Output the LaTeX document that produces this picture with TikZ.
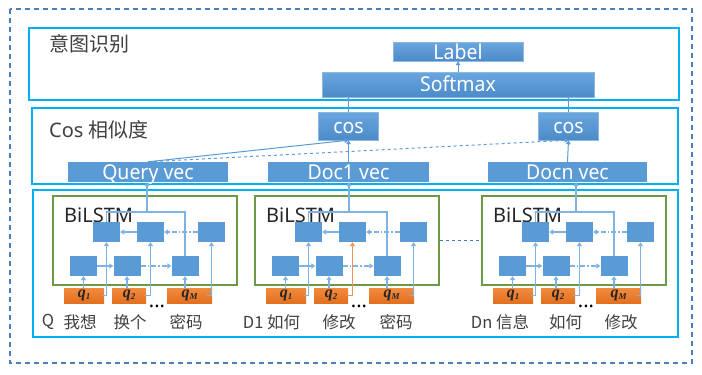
\documentclass[tikz,border=0pt]{standalone}
\usepackage{fontspec}
\setmainfont{Noto Sans}
\newfontfamily\cjk{Noto Sans CJK SC}
\newfontfamily\labf[FakeStretch=0.95]{Noto Sans}
\newfontfamily\qf{Liberation Serif}
\usetikzlibrary{arrows.meta,calc}
\definecolor{cyanf}{HTML}{00B0F0}
\definecolor{boxb}{HTML}{5B9BD5}
\definecolor{boxbt}{HTML}{6AA6DE}
\definecolor{boxbb}{HTML}{4C8BC9}
\definecolor{orgt}{HTML}{F28B3E}
\definecolor{orgb}{HTML}{E2701F}
\definecolor{grn}{HTML}{6A9A45}
\definecolor{dashb}{HTML}{4A7EBB}
\definecolor{lnb}{HTML}{7DB2E2}
\definecolor{txt}{HTML}{404040}
\definecolor{orln}{HTML}{F19352}
\newcommand{\qlb}[1]{{\qf\bfseries\itshape q\raisebox{-2pt}{\fontsize{9}{9}\selectfont #1}}}
\tikzset{
  frame/.style={draw=cyanf, line width=1.6pt},
  bbox/.style={rectangle, inner sep=0pt, top color=boxbt, bottom color=boxbb, draw=boxb!70!white, line width=0.4pt},
  vecbox/.style={rectangle, inner sep=0pt, fill=boxb, minimum height=20pt},
  cell/.style={rectangle, inner sep=0pt, minimum width=27pt, minimum height=20pt, fill=boxb},
  qbox/.style={rectangle, inner sep=0pt, minimum height=15pt, top color=orgt, bottom color=orgb, text=black!85, font=\fontsize{16}{16}\selectfont},
  wlab/.style={text=white, font=\labf\fontsize{20.5}{20.5}\selectfont, inner sep=0pt, anchor=base},
  lnk/.style={draw=lnb, line width=1.3pt, -{Triangle[length=4pt,width=5pt]}},
  pln/.style={draw=lnb, line width=1.3pt},
  lnk2/.style={draw=boxb, line width=1pt, -{Triangle[length=4pt,width=4.5pt]}},
  ttl/.style={text=txt, font=\fontsize{20}{20}\selectfont, anchor=west, inner sep=0pt},
  blab/.style={text=txt, font=\cjk\fontsize{16.5}{16.5}\selectfont, inner sep=0pt},
  bil/.style={text=black!85, font=\fontsize{20}{20}\selectfont, anchor=base west, inner sep=0pt}
}
\begin{document}
\begin{tikzpicture}[x=1pt,y=-1pt]
\useasboundingbox (0,0) rectangle (702,375);
% outer dashed frame
\draw[dashb, dash pattern=on 5pt off 4pt, line width=1.2pt] (10,9) rectangle (692,363);
% three layer frames
\draw[frame] (29,28) rectangle (679,100);
\draw[frame] (32,108) rectangle (678,184);
\draw[frame] (33,190) rectangle (678,337);
% titles
\node[ttl] (t1) at (49,44) {\cjk 意图识别};
\node[ttl] (t2) at (49,130) {Cos {\cjk 相似度}};
% top boxes
\node[bbox, minimum width=130pt, minimum height=19pt] (lab) at (458,51.5) {};
\node[bbox, minimum width=272pt, minimum height=25pt] (sm) at (458,84.5) {};
\node[bbox, minimum width=60pt, minimum height=28pt] (cos1) at (348.5,126) {};
\node[bbox, minimum width=60pt, minimum height=28pt] (cos2) at (568.5,126) {};
\node[vecbox, minimum width=160pt] (qv) at (148,172) {};
\node[vecbox, minimum width=161pt] (d1v) at (348.5,172) {};
\node[vecbox, minimum width=159pt] (dnv) at (567.5,172) {};
\node[wlab] at ([yshift=-7.5pt]lab.center) {Label};
\node[wlab] at ([yshift=-7pt]sm.center) {Softmax};
\node[wlab] at ([yshift=-7pt]cos1.center) {cos};
\node[wlab] at ([yshift=-7pt]cos2.center) {cos};
\node[wlab] at ([yshift=-7.5pt]qv.center) {Query vec};
\node[wlab] at ([yshift=-7.5pt]d1v.center) {Doc1 vec};
\node[wlab] at ([yshift=-7.5pt]dnv.center) {Docn vec};
% upper connectors
\draw[lnk2] (sm.north) -- (lab.south);
\draw[lnk2] (cos1.north) -- (cos1.north |- sm.south);
\draw[lnk2] (cos2.north) -- (cos2.north |- sm.south);
\draw[lnk2] (d1v.north) -- (cos1.south);
\draw[lnk2] (dnv.north) -- (cos2.south);
\draw[lnk2] (qv.north) -- (cos1.south);
\draw[lnk2, dashed] (qv.north) -- (cos2.south);
% BiLSTM blocks
\foreach \b/\gx/\qc/\vv in {a/53/lnb/qv, b/255/orln/d1v, c/482/lnb/dnv}{
  \node[draw=grn, line width=1.2pt, minimum width=184pt, minimum height=89pt, inner sep=0pt] (g\b) at (\gx+92,240.5) {};
  \node[bil] (bl\b) at (\gx+11,222) {BiLSTM};
  \node[cell] (T1\b) at (\gx+53.5,232) {};
  \node[cell] (T2\b) at (\gx+97.5,232) {};
  \node[cell] (T3\b) at (\gx+158.5,232) {};
  \node[cell] (B1\b) at (\gx+30.5,266) {};
  \node[cell] (B2\b) at (\gx+74,266) {};
  \node[cell] (B3\b) at (\gx+132,266) {};
  \node[qbox, minimum width=40pt] (q1\b) at (\gx+31,295.5) {\qlb{1}};
  \node[qbox, minimum width=34pt] (q2\b) at (\gx+76,295.5) {\qlb{2}};
  \node[qbox, minimum width=45pt] (qM\b) at (\gx+136.5,295.5) {\qlb{M}};
  \node[text=black, font=\bfseries\fontsize{20}{20}\selectfont, anchor=base, inner sep=0pt] (dt\b) at (\gx+104,307) {...};
  \coordinate (J\b) at (\gx+94,212);
  \draw[pln] (T1\b.north) |- (J\b) -| (B3\b.north);
  \draw[lnk] (J\b) -- (J\b |- \vv.south);
  \draw[lnk] (B1\b.south |- q1\b.north) -- (B1\b.south);
  \draw[lnk] (B2\b.south |- q2\b.north) -- (B2\b.south);
  \draw[lnk] (B3\b.south |- qM\b.north) -- (B3\b.south);
  \draw[lnk] (B1\b.east) -- (B2\b.west);
  \draw[lnk, dash pattern=on 5pt off 2pt on 1.5pt off 2pt] (B2\b.east) -- (B3\b.west);
  \draw[lnk, dash pattern=on 5pt off 2pt on 1.5pt off 2pt] (T3\b.west) -- (T2\b.east);
  \draw[lnk] (T2\b.west) -- (T1\b.east);
  \draw[lnk] ([xshift=-2pt]q1\b.east) -| (T1\b.south);
  \draw[lnk, draw=\qc] ([xshift=-2pt]q2\b.east) -| (T2\b.south);
  \draw[lnk] ([xshift=-5pt]qM\b.east) -| (T3\b.south);
}
\draw[dashb, dashed, line width=1pt] (gb.east) -- (gc.west);
% bottom word labels
\node[blab] (w1) at (48,322) {Q};
\node[blab] (w2) at (80,322) {我想};
\node[blab] (w3) at (130,322) {换个};
\node[blab] (w4) at (186,322) {密码};
\node[blab] (w5) at (271.5,322) {D1 如何};
\node[blab] (w6) at (339,322) {修改};
\node[blab] (w7) at (396,322) {密码};
\node[blab] (w8) at (500,322) {Dn 信息};
\node[blab] (w9) at (565.5,322) {如何};
\node[blab] (w10) at (621,322) {修改};
\end{tikzpicture}
\end{document}
